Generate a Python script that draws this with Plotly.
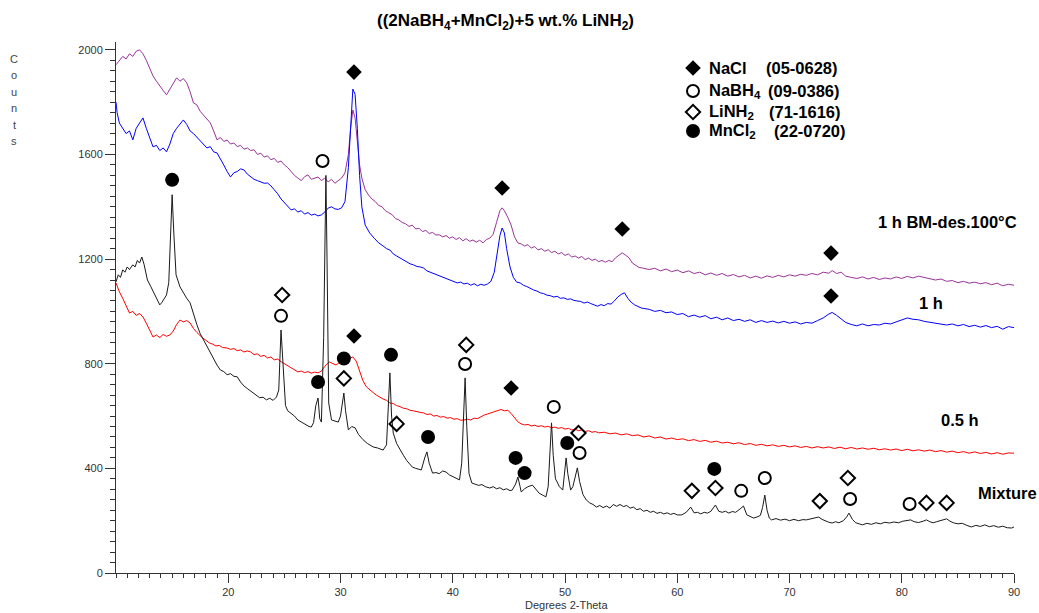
import plotly.graph_objects as go

# ---------------- data ----------------
# 1 h BM-des.100°C (purple)
bm_2theta = [10.0, 10.3, 10.6, 10.9, 11.2, 11.5, 11.8, 12.1, 12.4, 12.7,
             13.0, 13.3, 13.6, 13.9, 14.2, 14.5, 14.8, 15.1, 15.4, 15.7,
             16.0, 16.3, 16.6, 16.9, 17.2, 17.5, 17.8, 18.1, 18.4, 18.7,
             19.0, 19.3, 19.6, 19.9, 20.2, 20.5, 20.8, 21.1, 21.4, 21.7,
             22.0, 22.3, 22.6, 22.9, 23.2, 23.5, 23.8, 24.1, 24.4, 24.7,
             25.0, 25.3, 25.6, 25.9, 26.2, 26.5, 26.8, 27.1, 27.4, 27.7,
             28.0, 28.3, 28.6, 28.9, 29.2, 29.5, 29.8, 30.1, 30.4, 30.7,
             30.9, 31.1, 31.3, 31.5, 31.7, 31.9, 32.2, 32.5, 32.8, 33.1,
             33.4, 33.7, 34.0, 34.3, 34.6, 34.9, 35.2, 35.5, 35.8, 36.1,
             36.4, 36.7, 37.0, 37.3, 37.6, 37.9, 38.2, 38.5, 38.8, 39.1,
             39.4, 39.7, 40.0, 40.3, 40.6, 40.9, 41.2, 41.5, 41.8, 42.1,
             42.4, 42.7, 43.0, 43.3, 43.6, 43.9, 44.2, 44.4, 44.6, 44.9,
             45.2, 45.5, 45.8, 46.1, 46.4, 46.7, 47.0, 47.3, 47.6, 47.9,
             48.2, 48.5, 48.8, 49.1, 49.4, 49.7, 50.0, 50.3, 50.6, 50.9,
             51.2, 51.5, 51.8, 52.1, 52.4, 52.7, 53.0, 53.3, 53.6, 53.9,
             54.2, 54.5, 54.8, 55.1, 55.4, 55.7, 56.0, 56.3, 56.6, 56.9,
             57.5, 58.0, 58.5, 59.0, 59.5, 60.0, 60.5, 61.0, 61.5, 62.0,
             62.5, 63.0, 63.5, 64.0, 64.5, 65.0, 65.5, 66.0, 66.5, 67.0,
             67.5, 68.0, 68.5, 69.0, 69.5, 70.0, 70.5, 71.0, 71.5, 72.0,
             72.5, 73.0, 73.5, 73.8, 74.2, 74.6, 75.0, 75.5, 76.0, 76.5,
             77.0, 77.5, 78.0, 78.5, 79.0, 79.5, 80.0, 80.5, 81.0, 81.5,
             82.0, 82.5, 83.0, 83.5, 84.0, 84.5, 85.0, 85.5, 86.0, 86.5,
             87.0, 87.5, 88.0, 88.5, 89.0, 89.5, 90.0]
bm_counts = [1943, 1960, 1975, 1965, 1985, 1975, 1995, 2000, 1985, 1960,
             1930, 1900, 1880, 1860, 1845, 1828, 1850, 1875, 1893, 1880,
             1890, 1874, 1840, 1797, 1790, 1765, 1750, 1735, 1721, 1690,
             1656, 1665, 1650, 1655, 1640, 1644, 1630, 1635, 1620, 1625,
             1615, 1618, 1600, 1605, 1590, 1595, 1580, 1585, 1570, 1575,
             1560, 1550, 1535, 1520, 1510, 1500, 1515, 1522, 1505, 1510,
             1514, 1500, 1510, 1495, 1505, 1490, 1500, 1510, 1530, 1600,
             1700, 1770, 1740, 1640, 1560, 1510, 1465, 1445, 1430, 1420,
             1405, 1400, 1385, 1377, 1370, 1355, 1350, 1340, 1335, 1325,
             1330, 1315, 1318, 1305, 1310, 1298, 1302, 1292, 1293, 1285,
             1290, 1280, 1285, 1275, 1282, 1270, 1278, 1268, 1273, 1265,
             1272, 1262, 1275, 1280, 1295, 1340, 1385, 1396, 1385, 1360,
             1330, 1285, 1262, 1258, 1250, 1255, 1242, 1248, 1235, 1240,
             1230, 1236, 1225, 1230, 1220, 1225, 1214, 1220, 1208, 1212,
             1204, 1210, 1198, 1204, 1195, 1200, 1190, 1195, 1188, 1195,
             1190, 1205, 1215, 1224, 1215, 1205, 1185, 1175, 1168, 1166,
             1160, 1165, 1155, 1162, 1152, 1158, 1148, 1155, 1145, 1150,
             1140, 1147, 1138, 1145, 1135, 1141, 1132, 1138, 1128, 1135,
             1127, 1136, 1130, 1138, 1132, 1140, 1135, 1142, 1138, 1145,
             1140, 1150, 1146, 1156, 1145, 1150, 1135, 1130, 1126, 1132,
             1124, 1130, 1122, 1128, 1124, 1132, 1126, 1134, 1128, 1135,
             1130, 1125, 1120, 1124, 1115, 1118, 1110, 1115, 1108, 1112,
             1106, 1110, 1102, 1108, 1098, 1104, 1100]

# 1 h (blue)
h1_2theta = [10.0, 10.1, 10.3, 10.6, 10.9, 11.2, 11.5, 11.8, 12.1, 12.4,
             12.7, 13.0, 13.3, 13.6, 13.9, 14.2, 14.5, 14.8, 15.1, 15.4,
             15.7, 16.0, 16.3, 16.6, 16.9, 17.2, 17.5, 17.8, 18.1, 18.4,
             18.7, 19.0, 19.3, 19.6, 19.9, 20.2, 20.5, 20.8, 21.1, 21.4,
             21.7, 22.0, 22.3, 22.6, 22.9, 23.2, 23.5, 23.8, 24.1, 24.4,
             24.7, 25.0, 25.3, 25.6, 25.9, 26.2, 26.5, 26.8, 27.1, 27.4,
             27.7, 28.0, 28.3, 28.6, 28.9, 29.2, 29.5, 29.8, 30.1, 30.4,
             30.7, 30.9, 31.1, 31.3, 31.5, 31.7, 31.9, 32.2, 32.6, 33.0,
             33.4, 33.8, 34.1, 34.4, 34.7, 35.0, 35.3, 35.6, 35.9, 36.2,
             36.5, 36.8, 37.1, 37.4, 37.7, 38.0, 38.3, 38.6, 38.9, 39.2,
             39.5, 39.8, 40.1, 40.4, 40.7, 41.0, 41.3, 41.6, 41.9, 42.2,
             42.5, 42.8, 43.1, 43.4, 43.7, 44.0, 44.2, 44.4, 44.6, 44.8,
             45.1, 45.4, 45.7, 46.0, 46.3, 46.6, 46.9, 47.2, 47.5, 47.8,
             48.1, 48.4, 48.7, 49.0, 49.3, 49.6, 49.9, 50.2, 50.5, 50.8,
             51.1, 51.4, 51.7, 52.0, 52.3, 52.6, 52.9, 53.2, 53.5, 53.8,
             54.1, 54.4, 54.7, 55.0, 55.3, 55.6, 55.9, 56.2, 56.5, 56.8,
             57.5, 58.0, 58.5, 59.0, 59.5, 60.0, 60.5, 61.0, 61.5, 62.0,
             62.5, 63.0, 63.5, 64.0, 64.5, 65.0, 65.5, 66.0, 66.5, 67.0,
             67.5, 68.0, 68.5, 69.0, 69.5, 70.0, 70.5, 71.0, 71.5, 72.0,
             72.5, 73.0, 73.5, 73.8, 74.2, 74.6, 75.0, 75.5, 76.0, 76.5,
             77.0, 77.5, 78.0, 78.5, 79.0, 79.5, 80.0, 80.5, 81.0, 81.5,
             82.0, 82.5, 83.0, 83.5, 84.0, 84.5, 85.0, 85.5, 86.0, 86.5,
             87.0, 87.5, 88.0, 88.5, 89.0, 89.5, 90.0]
h1_counts = [1800, 1760, 1720, 1700, 1680, 1690, 1656, 1700, 1720, 1740,
             1700, 1660, 1629, 1635, 1615, 1625, 1610, 1640, 1680, 1700,
             1715, 1732, 1715, 1690, 1680, 1667, 1650, 1640, 1625, 1630,
             1610, 1606, 1585, 1560, 1535, 1514, 1530, 1535, 1545, 1541,
             1525, 1515, 1505, 1500, 1495, 1490, 1491, 1480, 1465, 1450,
             1430, 1415, 1400, 1388, 1392, 1380, 1385, 1372, 1378, 1368,
             1372, 1365, 1369, 1380, 1395, 1400, 1392, 1390, 1396, 1420,
             1550, 1720, 1850, 1830, 1700, 1520, 1400, 1330, 1300, 1280,
             1262, 1250, 1240, 1235, 1220, 1212, 1205, 1195, 1190, 1182,
             1178, 1172, 1170, 1166, 1155, 1150, 1145, 1140, 1132, 1130,
             1122, 1118, 1112, 1109, 1112, 1105, 1108, 1100, 1106, 1098,
             1104, 1100, 1105, 1115, 1150, 1230, 1290, 1319, 1300, 1240,
             1170, 1130, 1112, 1109, 1100, 1095, 1088, 1082, 1078, 1071,
             1068, 1062, 1060, 1055, 1058, 1050, 1052, 1046, 1048, 1042,
             1040, 1038, 1032, 1036, 1030, 1026, 1020, 1026, 1022, 1030,
             1028, 1040, 1055, 1065, 1071, 1050, 1035, 1025, 1018, 1013,
             1008, 1000, 1004, 995, 998, 988, 992, 980, 986, 978,
             984, 972, 978, 968, 975, 965, 970, 962, 968, 958,
             965, 958, 963, 956, 962, 955, 960, 952, 958, 955,
             965, 975, 990, 996, 985, 970, 958, 950, 945, 952,
             945, 950, 948, 955, 952, 960, 968, 975, 970, 968,
             962, 958, 955, 952, 948, 952, 945, 950, 942, 947,
             940, 946, 938, 943, 932, 942, 938]

# 0.5 h (red)
h05_2theta = [10.0, 10.3, 10.6, 10.9, 11.2, 11.5, 11.8, 12.1, 12.4, 12.7,
              13.0, 13.3, 13.6, 13.9, 14.2, 14.5, 14.8, 15.1, 15.4, 15.7,
              16.0, 16.3, 16.6, 16.9, 17.2, 17.5, 17.7, 18.0, 18.3, 18.6,
              18.9, 19.2, 19.5, 19.9, 20.2, 20.5, 20.8, 21.1, 21.4, 21.7,
              22.0, 22.3, 22.6, 22.9, 23.2, 23.5, 23.8, 24.1, 24.4, 24.7,
              25.0, 25.3, 25.6, 25.9, 26.2, 26.5, 26.8, 27.1, 27.4, 27.7,
              28.0, 28.3, 28.6, 29.0, 29.3, 29.6, 29.9, 30.2, 30.5, 30.8,
              31.1, 31.4, 31.7, 32.0, 32.3, 32.6, 32.9, 33.2, 33.5, 33.8,
              34.1, 34.4, 34.7, 35.0, 35.3, 35.6, 35.9, 36.2, 36.5, 36.8,
              37.1, 37.4, 37.7, 38.0, 38.3, 38.6, 38.9, 39.2, 39.5, 39.8,
              40.1, 40.4, 40.7, 41.0, 41.3, 41.6, 41.9, 42.2, 42.5, 42.8,
              43.1, 43.4, 43.7, 44.0, 44.3, 44.6, 44.9, 45.2, 45.5, 45.8,
              46.1, 46.4, 46.7, 47.0, 47.3, 47.6, 47.9, 48.2, 48.5, 48.8,
              49.1, 49.4, 49.7, 50.0, 50.3, 50.6, 50.9, 51.2, 51.5, 51.8,
              52.1, 52.4, 52.7, 53.0, 53.5, 54.0, 54.5, 55.0, 55.5, 56.0,
              56.5, 57.0, 57.5, 58.0, 58.5, 59.0, 59.5, 60.0, 60.5, 61.0,
              61.5, 62.0, 62.5, 63.0, 63.5, 64.0, 64.5, 65.0, 65.5, 66.0,
              66.5, 67.0, 67.5, 68.0, 68.5, 69.0, 69.5, 70.0, 70.5, 71.0,
              71.5, 72.0, 72.5, 73.0, 73.5, 74.0, 74.5, 75.0, 75.5, 76.0,
              76.5, 77.0, 77.5, 78.0, 78.5, 79.0, 79.5, 80.0, 80.5, 81.0,
              81.5, 82.0, 82.5, 83.0, 83.5, 84.0, 84.5, 85.0, 85.5, 86.0,
              86.5, 87.0, 87.5, 88.0, 88.5, 89.0, 89.5, 90.0]
h05_counts = [1109, 1075, 1050, 1020, 994, 1000, 985, 992, 979, 955,
              925, 902, 910, 900, 912, 905, 910, 925, 950, 967,
              960, 965, 956, 935, 920, 905, 899, 890, 880, 875,
              868, 870, 862, 860, 855, 858, 850, 853, 845, 849,
              845, 835, 838, 828, 832, 822, 826, 815, 818, 808,
              800, 790, 782, 775, 769, 772, 766, 770, 764, 768,
              765, 772, 790, 807, 800, 795, 805, 800, 815, 822,
              826, 810, 770, 735, 712, 700, 690, 680, 672, 665,
              660, 650, 648, 640, 636, 630, 628, 622, 620, 616,
              614, 612, 606, 608, 600, 602, 596, 598, 592, 594,
              588, 590, 584, 585, 588, 585, 592, 590, 598, 604,
              608, 612, 616, 620, 625, 620, 622, 610, 595, 578,
              570, 566, 568, 562, 565, 560, 563, 558, 561, 555,
              558, 553, 556, 550, 553, 547, 550, 544, 547, 541,
              544, 538, 541, 536, 538, 532, 535, 528, 532, 525,
              528, 520, 524, 516, 520, 512, 516, 510, 513, 506,
              510, 503, 507, 500, 504, 497, 500, 494, 498, 491,
              495, 488, 492, 486, 490, 484, 488, 482, 486, 480,
              484, 478, 483, 478, 482, 476, 481, 475, 480, 474,
              478, 473, 477, 471, 475, 470, 474, 468, 473, 467,
              471, 466, 470, 464, 468, 462, 466, 460, 464, 458,
              463, 457, 461, 455, 460, 454, 459, 458]

# Mixture (black)
mix_2theta = [10.0, 10.2, 10.4, 10.6, 10.8, 11.0, 11.2, 11.5, 11.7, 11.9,
              12.1, 12.3, 12.5, 12.8, 13.1, 13.4, 13.7, 13.9, 14.1, 14.3,
              14.5, 14.7, 14.85, 15.0, 15.15, 15.35, 15.7, 16.0, 16.3, 16.6,
              16.9, 17.2, 17.5, 17.8, 18.1, 18.4, 18.7, 19.0, 19.3, 19.6,
              19.9, 20.2, 20.5, 20.8, 21.1, 21.4, 21.7, 22.0, 22.2, 22.5,
              22.8, 23.1, 23.4, 23.7, 24.0, 24.3, 24.5, 24.7, 24.9, 25.1,
              25.3, 25.6, 25.9, 26.2, 26.6, 26.9, 27.2, 27.4, 27.6, 27.8,
              28.0, 28.15, 28.3, 28.5, 28.6, 28.7, 28.8, 28.95, 29.2, 29.5,
              29.8, 30.0, 30.2, 30.3, 30.45, 30.7, 31.0, 31.3, 31.6, 32.0,
              32.4, 32.9, 33.3, 33.8, 34.1, 34.3, 34.4, 34.55, 34.7, 35.0,
              35.3, 35.6, 35.9, 36.2, 36.4, 36.7, 37.0, 37.2, 37.5, 37.7,
              37.9, 38.2, 38.5, 38.8, 39.1, 39.4, 39.7, 40.0, 40.3, 40.6,
              40.8, 41.0, 41.1, 41.25, 41.45, 41.7, 42.0, 42.3, 42.6, 42.9,
              43.3, 43.6, 43.9, 44.2, 44.5, 44.8, 45.1, 45.3, 45.6, 45.8,
              46.0, 46.1, 46.4, 46.7, 47.1, 47.4, 47.7, 48.0, 48.3, 48.5,
              48.7, 48.8, 48.95, 49.15, 49.3, 49.5, 49.8, 50.0, 50.1, 50.25,
              50.5, 50.7, 50.9, 51.1, 51.3, 51.6, 51.9, 52.2, 52.5, 52.8,
              53.1, 53.4, 53.7, 54.0, 54.3, 54.6, 54.9, 55.2, 55.5, 55.8,
              56.1, 56.4, 56.7, 57.0, 57.3, 57.6, 57.9, 58.2, 58.5, 58.8,
              59.1, 59.4, 59.7, 60.0, 60.4, 60.8, 61.2, 61.5, 61.8, 62.1,
              62.4, 62.7, 63.0, 63.4, 63.7, 64.0, 64.3, 64.6, 64.9, 65.2,
              65.6, 65.9, 66.2, 66.5, 66.8, 67.1, 67.4, 67.6, 67.8, 68.0,
              68.2, 68.4, 68.8, 69.2, 69.6, 70.0, 70.4, 70.8, 71.2, 71.5,
              71.9, 72.3, 72.6, 72.9, 73.2, 73.5, 73.8, 74.1, 74.4, 74.8,
              75.1, 75.3, 75.6, 75.9, 76.2, 76.5, 76.9, 77.3, 77.7, 78.1,
              78.5, 78.9, 79.3, 79.7, 80.1, 80.5, 80.8, 81.1, 81.5, 81.9,
              82.2, 82.5, 82.8, 83.1, 83.5, 83.8, 84.0, 84.3, 84.6, 85.0,
              85.4, 85.8, 86.2, 86.6, 87.0, 87.4, 87.8, 88.2, 88.6, 89.0,
              89.4, 89.8, 90.0]
mix_counts = [1113, 1140, 1130, 1159, 1150, 1170, 1160, 1178, 1170, 1195,
              1185, 1208, 1180, 1120, 1095, 1070, 1040, 1025, 1035, 1050,
              1063, 1110, 1300, 1446, 1300, 1140, 1094, 1070, 1050, 1033,
              990, 950, 915, 890, 864, 840, 815, 795, 776, 770,
              758, 762, 752, 750, 730, 715, 705, 695, 688, 680,
              670, 672, 662, 668, 660, 673, 700, 929, 760, 640,
              620, 610, 600, 585, 574, 565, 560, 558, 575, 640,
              669, 590, 577, 900, 1300, 1520, 1200, 650, 585, 580,
              577, 600, 660, 688, 620, 547, 560, 555, 530, 510,
              495, 482, 478, 470, 490, 700, 765, 600, 535, 495,
              470, 450, 430, 415, 405, 400, 396, 394, 440, 463,
              420, 382, 384, 380, 390, 386, 375, 368, 362, 356,
              420, 680, 746, 560, 380, 344, 340, 335, 338, 330,
              325, 330, 322, 326, 318, 322, 315, 317, 340, 367,
              330, 310, 322, 330, 336, 320, 305, 298, 291, 330,
              520, 574, 450, 360, 348, 330, 317, 400, 440, 380,
              317, 330, 370, 402, 350, 300, 279, 268, 262, 252,
              258, 250, 256, 248, 262, 255, 262, 254, 258, 248,
              252, 242, 246, 236, 240, 232, 236, 228, 232, 226,
              230, 224, 228, 222, 222, 232, 252, 230, 232, 226,
              232, 229, 236, 260, 236, 232, 236, 229, 235, 232,
              245, 256, 222, 215, 210, 214, 220, 250, 298, 240,
              210, 203, 208, 202, 206, 200, 205, 200, 204, 203,
              206, 210, 214, 205, 198, 194, 191, 196, 192, 200,
              215, 229, 205, 192, 188, 184, 190, 186, 192, 188,
              194, 191, 195, 192, 198, 200, 203, 196, 193, 198,
              203, 196, 192, 196, 200, 204, 207, 198, 192, 188,
              190, 182, 176, 182, 178, 184, 177, 181, 175, 179,
              173, 172, 176]

# Phase identification markers (2-theta, counts)
nacl_2theta = [31.2, 44.4, 55.1, 73.7, 73.7, 31.2, 45.2]
nacl_counts = [1915, 1472, 1315, 1223, 1059, 906, 707]
nabh4_2theta = [28.4, 24.7, 41.1, 49.0, 51.3, 65.7, 67.8, 75.4, 80.7]
nabh4_counts = [1575, 983, 799, 635, 459, 314, 363, 283, 264]
linh2_2theta = [24.8, 30.3, 35.0, 41.2, 51.2, 61.3, 63.4, 72.7, 75.2, 82.2, 84.0]
linh2_counts = [1063, 744, 570, 872, 535, 314, 325, 275, 363, 268, 268]
mncl2_2theta = [15.0, 28.0, 30.3, 34.5, 37.8, 45.6, 46.4, 50.2, 63.3]
mncl2_counts = [1503, 730, 820, 834, 520, 440, 382, 497, 398]

# legend: phase names and PDF card numbers
legend_phases = ["<b>NaCl</b>", "<b>NaBH<sub>4</sub></b>", "<b>LiNH<sub>2</sub></b>",
                 "<b>MnCl<sub>2</sub></b>"]
legend_cards = ["<b>(05-0628)</b>", "<b>(09-0386)</b>", "<b>(71-1616)</b>",
                "<b>(22-0720)</b>"]

series_labels = ["<b>1 h BM-des.100°C</b>", "<b>1 h</b>", "<b>0.5 h</b>", "<b>Mixture</b>"]
label_2theta = [84.1, 82.6, 85.2, 89.4]
label_counts = [1342, 1032, 585, 306]

x_ticks = [20, 30, 40, 50, 60, 70, 80, 90]
y_ticks = [0, 400, 800, 1200, 1600, 2000]

FONT = "Liberation Sans, Arial, sans-serif"

# plot-area geometry in pixels (for paper-coordinate placement of texts)
L, R, T, B, W, H = 116, 25, 42, 40, 1039, 613
PW, PH = W - L - R, H - T - B


def px(xp):
    return (xp - L) / PW


def py(yp):
    return (H - B - yp) / PH


fig = go.Figure()

for xs, ys, col in [(bm_2theta, bm_counts, "#993399"),
                    (h1_2theta, h1_counts, "#0000ff"),
                    (h05_2theta, h05_counts, "#ff0000"),
                    (mix_2theta, mix_counts, "#1a1a1a")]:
    fig.add_trace(go.Scatter(x=xs, y=ys, mode="lines", showlegend=False,
                             line=dict(color=col, width=1), hoverinfo="skip"))

marker_styles = [
    dict(symbol="diamond", size=12, color="black", line=dict(width=0)),
    dict(symbol="circle-open", size=12, color="black", line=dict(width=2)),
    dict(symbol="diamond-open", size=11, color="black", line=dict(width=2)),
    dict(symbol="circle", size=14, color="black", line=dict(width=0)),
]
marker_data = [(nacl_2theta, nacl_counts), (nabh4_2theta, nabh4_counts),
               (linh2_2theta, linh2_counts), (mncl2_2theta, mncl2_counts)]
for (xs, ys), mk in zip(marker_data, marker_styles):
    fig.add_trace(go.Scatter(x=xs, y=ys, mode="markers", showlegend=False,
                             marker=mk, hoverinfo="skip"))

# legend keys drawn on a hidden overlay axis in paper-like units
legend_rows_px = [68, 91, 112, 131]
card_x_px = [764, 766, 767, 772]
for mk, rowp in zip(marker_styles, legend_rows_px):
    fig.add_trace(go.Scatter(x=[px(693)], y=[py(rowp)], xaxis="x2", yaxis="y2",
                             mode="markers", showlegend=False, marker=mk,
                             hoverinfo="skip", cliponaxis=False))
for name, card, rowp, cx in zip(legend_phases, legend_cards, legend_rows_px, card_x_px):
    fig.add_annotation(x=px(707), y=py(rowp), xref="paper", yref="paper", text=name,
                       showarrow=False, xanchor="left", yanchor="middle",
                       font=dict(family=FONT, size=16.5, color="black"))
    fig.add_annotation(x=px(cx), y=py(rowp), xref="paper", yref="paper", text=card,
                       showarrow=False, xanchor="left", yanchor="middle",
                       font=dict(family=FONT, size=16.5, color="black"))

for txt, xv, yv in zip(series_labels, label_2theta, label_counts):
    fig.add_annotation(x=xv, y=yv, xref="x", yref="y", text=txt, showarrow=False,
                       xanchor="center", yanchor="middle",
                       font=dict(family=FONT, size=16.5, color="black"))

# title
fig.add_annotation(x=px(505), y=py(22), xref="paper", yref="paper", showarrow=False,
                   xanchor="center", yanchor="middle",
                   text="<b>((2NaBH<sub>4</sub>+MnCl<sub>2</sub>)+5 wt.% LiNH<sub>2</sub>)</b>",
                   font=dict(family=FONT, size=17, color="black"))
# x axis title
fig.add_annotation(x=px(566), y=py(605), xref="paper", yref="paper", showarrow=False,
                   xanchor="center", yanchor="middle",
                   text="Degrees 2-Theta", font=dict(family=FONT, size=11, color="#333"))
# y axis title (stacked letters)
for i, ch in enumerate("Counts"):
    fig.add_annotation(x=px(14), y=py(59 + i * 16.4), xref="paper", yref="paper",
                       showarrow=False, text=ch, xanchor="center", yanchor="middle",
                       font=dict(family=FONT, size=11, color="#444"))

fig.update_layout(
    width=W, height=H,
    margin=dict(l=L, r=R, t=T, b=B),
    paper_bgcolor="white", plot_bgcolor="white",
    font=dict(family=FONT, color="#333"),
    showlegend=False,
    xaxis=dict(range=[10, 90], tickmode="array", tickvals=x_ticks,
               showline=True, linecolor="#333", linewidth=1, ticks="outside",
               ticklen=9, tickcolor="#333", showgrid=False, zeroline=False,
               tickfont=dict(family=FONT, size=11, color="#333"),
               minor=dict(tickmode="linear", tick0=10, dtick=1, ticks="outside",
                          ticklen=4, tickcolor="#333", showgrid=False)),
    yaxis=dict(range=[0, 2030], tickmode="array", tickvals=y_ticks,
               showline=True, linecolor="#333", linewidth=1, ticks="outside",
               ticklen=10, tickcolor="#333", showgrid=False, zeroline=False,
               tickfont=dict(family=FONT, size=11, color="#333"),
               minor=dict(tickmode="linear", tick0=0, dtick=40, ticks="outside",
                          ticklen=5, tickcolor="#333", showgrid=False)),
    xaxis2=dict(overlaying="x", range=[0, 1], visible=False, fixedrange=True),
    yaxis2=dict(overlaying="y", range=[0, 1], visible=False, fixedrange=True),
)

fig.write_html("out.html")
